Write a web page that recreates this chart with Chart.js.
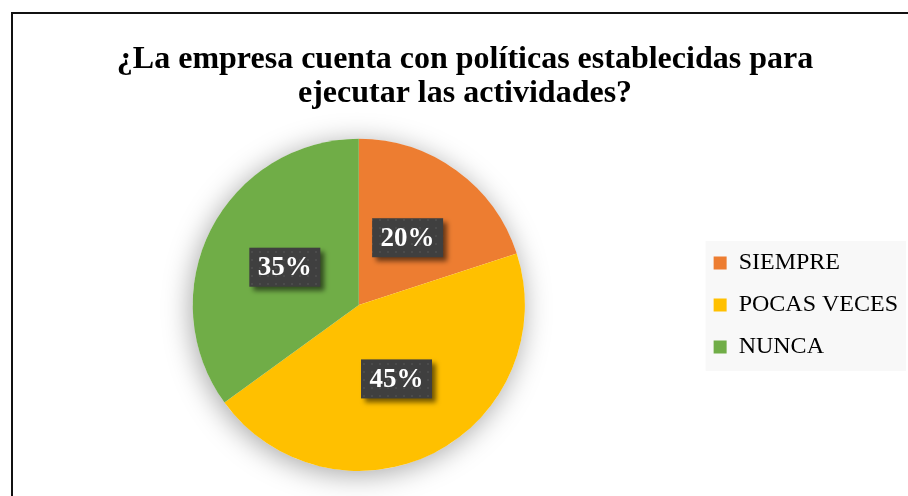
<!DOCTYPE html>
<html>
<head>
<meta charset="utf-8">
<script src="https://cdn.jsdelivr.net/npm/chart.js@4.4.1/dist/chart.umd.min.js"></script>
<style>
  html, body { margin: 0; padding: 0; background: #fff; overflow: hidden; }
  #caja { position: absolute; left: 0; top: 0; width: 930px; height: 496px; }
</style>
</head>
<body>
<div id="caja"><canvas id="grafico-pie"></canvas></div>
<script>
// Datos del grafico
var categorias = ['SIEMPRE', 'POCAS VECES', 'NUNCA'];
var porcentajes = [20, 45, 35];
var colores = ['#ED7D31', '#FFC000', '#70AD47'];
var titulo = ['¿La empresa cuenta con políticas establecidas para', 'ejecutar las actividades?'];

// patron punteado de las etiquetas
function patronEtiqueta(ctx) {
    var c = document.createElement('canvas');
    c.width = 8; c.height = 8;
    var p = c.getContext('2d');
    p.fillStyle = '#3f3f3f';
    p.fillRect(0, 0, 8, 8);
    p.fillStyle = '#4b4b4b';
    p.fillRect(3, 3, 2, 2);
    return ctx.createPattern(c, 'repeat');
}

// marco, fondo de leyenda y sombra del pastel
var pluginFondo = {
    id: 'fondo',
    beforeDraw: function (chart) {
        var ctx = chart.ctx;
        ctx.save();
        ctx.strokeStyle = '#111';
        ctx.lineWidth = 2;
        ctx.beginPath();
        ctx.moveTo(12, 600);
        ctx.lineTo(12, 13);
        ctx.lineTo(940, 13);
        ctx.stroke();
        var cajas = chart.legend.legendHitBoxes;
        if (cajas && cajas.length) {
            var primero = cajas[0], ultimo = cajas[cajas.length - 1];
            var x0 = primero.left - 8;
            ctx.fillStyle = '#f8f8f8';
            ctx.fillRect(x0, primero.top - 10, 906 - x0, ultimo.top + ultimo.height - primero.top + 22);
        }
        ctx.restore();
    },
    beforeDatasetsDraw: function (chart) {
        var arco = chart.getDatasetMeta(0).data[0];
        if (!arco) return;
        var ctx = chart.ctx;
        ctx.save();
        ctx.shadowColor = 'rgba(0,0,0,0.35)';
        ctx.shadowBlur = 28;
        ctx.shadowOffsetX = -2;
        ctx.shadowOffsetY = 4;
        ctx.fillStyle = '#fff';
        ctx.beginPath();
        ctx.arc(arco.x, arco.y, arco.outerRadius, 0, Math.PI * 2);
        ctx.fill();
        ctx.restore();
    }
};

// etiquetas de porcentaje
var pluginEtiquetas = {
    id: 'etiquetas',
    afterDatasetsDraw: function (chart) {
        var ctx = chart.ctx;
        var meta = chart.getDatasetMeta(0);
        var relleno = patronEtiqueta(ctx);
        meta.data.forEach(function (arco, i) {
            var pos = arco.tooltipPosition();
            var w = 71, h = 39;
            ctx.save();
            ctx.shadowColor = 'rgba(0,0,0,0.55)';
            ctx.shadowBlur = 5;
            ctx.shadowOffsetX = 4;
            ctx.shadowOffsetY = 4;
            ctx.fillStyle = relleno;
            ctx.fillRect(pos.x - w / 2, pos.y - h / 2, w, h);
            ctx.restore();
            ctx.save();
            ctx.fillStyle = '#fff';
            ctx.font = 'bold 27px "Liberation Serif"';
            ctx.textAlign = 'center';
            ctx.textBaseline = 'middle';
            ctx.fillText(porcentajes[i] + '%', pos.x, pos.y + 1);
            ctx.restore();
        });
    }
};

var contexto = document.getElementById('grafico-pie').getContext('2d');
var graficoPie = new Chart(contexto, {
    type: 'pie',
    data: {
        labels: categorias,
        datasets: [{
            data: porcentajes,
            backgroundColor: colores,
            borderWidth: 0
        }]
    },
    options: {
        responsive: true,
        maintainAspectRatio: false,
        animation: false,
        layout: {
            padding: { left: 22, right: 22, top: 0, bottom: 25 }
        },
        plugins: {
            title: {
                display: true,
                text: titulo,
                color: '#000',
                font: { family: '"Liberation Serif"', size: 32, weight: 'bold', lineHeight: 1.06 },
                padding: { top: 43, bottom: 28 }
            },
            legend: {
                position: 'right',
                fullSize: false,
                labels: {
                    color: '#000',
                    font: { family: '"Liberation Serif"', size: 24 },
                    boxWidth: 13,
                    boxHeight: 13,
                    padding: 18
                }
            },
            tooltip: { enabled: false }
        }
    },
    plugins: [pluginFondo, pluginEtiquetas]
});
</script>
</body>
</html>
